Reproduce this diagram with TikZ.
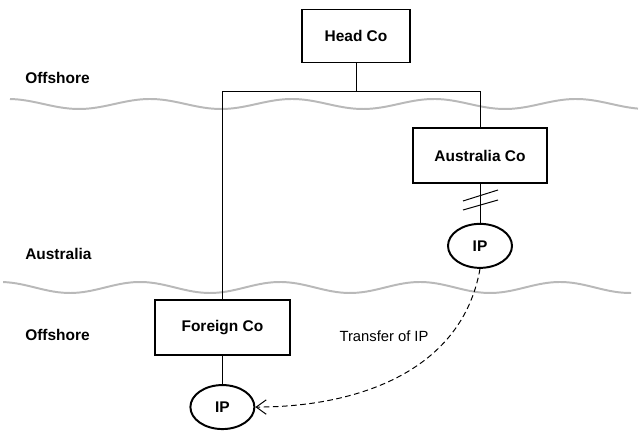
\documentclass[tikz,border=0pt]{standalone}
\usepackage{fontspec}
\setmainfont{Liberation Sans}
\usetikzlibrary{arrows.meta,calc,positioning,shapes.geometric}

\begin{document}
\begin{tikzpicture}[>={Straight Barb[length=2.5mm,width=3.6mm]},
  cobox/.style={draw,line width=1.4pt,minimum width=3.35cm,minimum height=1.375cm,font=\fontsize{11}{13}\selectfont\bfseries},
  ipnode/.style={draw,ellipse,line width=1.4pt,minimum width=1.6cm,minimum height=1.1cm,inner sep=0pt,font=\fontsize{11}{13}\selectfont\bfseries},
  region/.style={anchor=west,inner sep=0pt,font=\fontsize{11}{13}\selectfont\bfseries},
  wave/.style={gray!55,line width=1.4pt}]
\useasboundingbox (0,0) rectangle (16.05,10.8);
% sea lines between the regions
\draw[wave] plot[domain=0.25:15.95,samples=150,smooth] (\x,{8.2+0.125*cos(360*(\x-0.2)/3.55)});
\draw[wave] plot[domain=0.08:15.78,samples=150,smooth] (\x,{3.6125+0.1375*cos(360*\x/3.5)});
\node[region] (offtop) at (0.625,8.85) {Offshore};
\node[region] (aus) at (0.625,4.45) {Australia};
\node[region] (offbot) at (0.625,2.425) {Offshore};
% companies
\node[cobox,minimum width=2.7cm,minimum height=1.325cm] (head) at (8.9,9.9) {Head Co};
\node[cobox] (ausco) at (12.0,6.91) {Australia Co};
\node[ipnode,below=0.97cm of ausco] (ausip) {IP};
\node[cobox,minimum width=3.375cm] (forco) at (5.56,2.61) {Foreign Co};
\node[ipnode,below=0.7cm of forco] (forip) {IP};
% ownership lines
\coordinate (split) at ($(head.south)+(0,-0.69)$);
\draw[line width=0.7pt] (head.south) -- (split);
\draw[line width=0.7pt] (forco.north) |- (split) -| (ausco.north);
\draw[line width=0.7pt] (ausco) -- (ausip);
\draw[line width=0.7pt] (forco) -- (forip);
\coordinate (cut) at ($(ausco.south)!0.41!(ausip.north)$);
\draw[line width=0.7pt] ([shift={(-0.425,-0.025)}]cut) -- ([shift={(0.45,0.25)}]cut);
\draw[line width=0.7pt] ([shift={(-0.425,-0.25)}]cut) -- ([shift={(0.45,0)}]cut);
% transfer
\draw[->,line width=0.7pt,dash pattern=on 4pt off 2.5pt] (ausip.south) to[out=-100,in=0] (forip.east);
\node[font=\fontsize{10.5}{12}\selectfont] (xfer) at (9.6,2.4) {Transfer of IP};
\end{tikzpicture}
\end{document}
